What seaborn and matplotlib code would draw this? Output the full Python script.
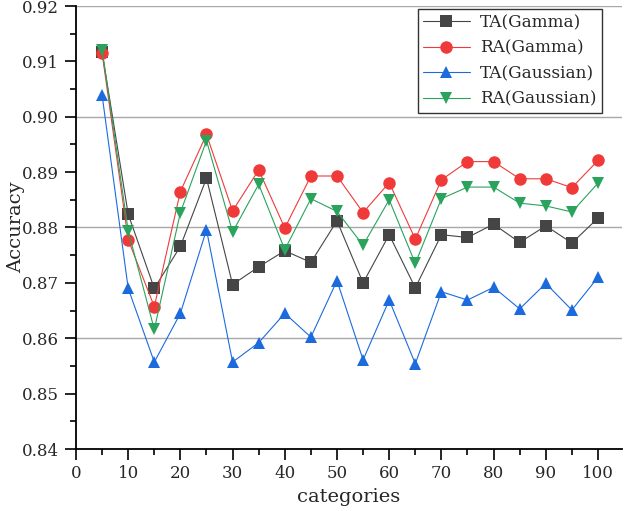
import numpy as np
import pandas as pd
import matplotlib
matplotlib.use("Agg")
import matplotlib.pyplot as plt
import seaborn as sns
from matplotlib.ticker import MultipleLocator, FormatStrFormatter

categories = [5, 10, 15, 20, 25, 30, 35, 40, 45, 50, 55, 60, 65, 70, 75, 80, 85, 90, 95, 100]

ta_gamma = [0.9117, 0.8824, 0.8690, 0.8766, 0.8889, 0.8697, 0.8729, 0.8758, 0.8737, 0.8812,
            0.8700, 0.8787, 0.8691, 0.8787, 0.8782, 0.8806, 0.8773, 0.8803, 0.8772, 0.8817]
ra_gamma = [0.9115, 0.8778, 0.8657, 0.8865, 0.8968, 0.8830, 0.8904, 0.8799, 0.8893, 0.8893,
            0.8827, 0.8881, 0.8779, 0.8886, 0.8919, 0.8919, 0.8888, 0.8888, 0.8872, 0.8921]
ta_gauss = [0.9039, 0.8690, 0.8557, 0.8645, 0.8796, 0.8557, 0.8592, 0.8645, 0.8602, 0.8704,
            0.8561, 0.8669, 0.8554, 0.8684, 0.8669, 0.8692, 0.8653, 0.8699, 0.8651, 0.8710]
ra_gauss = [0.9121, 0.8794, 0.8616, 0.8827, 0.8957, 0.8792, 0.8878, 0.8760, 0.8852, 0.8829,
            0.8768, 0.8850, 0.8735, 0.8852, 0.8873, 0.8873, 0.8844, 0.8839, 0.8828, 0.8880]

series_names = ["TA(Gamma)", "RA(Gamma)", "TA(Gaussian)", "RA(Gaussian)"]
series_values = [ta_gamma, ra_gamma, ta_gauss, ra_gauss]
colors = ["#454545", "#F03A3A", "#1C6BDE", "#2AA35C"]
marker_list = ["s", "o", "^", "v"]
grid_values = [0.86, 0.88, 0.90, 0.92]

df = pd.concat(
    [pd.DataFrame({"categories": categories, "Accuracy": vals, "series": name})
     for name, vals in zip(series_names, series_values)],
    ignore_index=True,
)

sns.set_style("ticks")
plt.rcParams["font.family"] = ["DejaVu Serif"]

fig = plt.figure(figsize=(6.24, 5.11), dpi=100)
ax = fig.add_axes([76 / 624, 1 - 449 / 511, (622 - 76) / 624, (449 - 6) / 511])

for yv in grid_values:
    ax.axhline(yv, color="#a8a8a8", lw=1.0, zorder=0)

sns.lineplot(
    data=df, x="categories", y="Accuracy", hue="series", style="series",
    palette=dict(zip(series_names, colors)),
    markers=dict(zip(series_names, marker_list)),
    dashes=False, markersize=9, markeredgewidth=0, linewidth=0.8, ax=ax,
)

ax.set_xlim(0, 104.6)
ax.set_ylim(0.84, 0.92)
ax.xaxis.set_major_locator(MultipleLocator(10))
ax.xaxis.set_minor_locator(MultipleLocator(5))
ax.yaxis.set_major_locator(MultipleLocator(0.01))
ax.yaxis.set_minor_locator(MultipleLocator(0.005))
ax.yaxis.set_major_formatter(FormatStrFormatter("%.2f"))
ax.tick_params(which="major", length=8, width=1.2, labelsize=12, color="black")
ax.tick_params(which="minor", length=4.5, width=1.2, color="black")
ax.tick_params(axis="y", pad=4)

for side in ["top", "right"]:
    ax.spines[side].set_visible(False)
for side in ["left", "bottom"]:
    ax.spines[side].set_linewidth(1.3)
    ax.spines[side].set_color("black")

ax.set_xlabel("categories", fontsize=14)
ax.set_ylabel("Accuracy", fontsize=14)
ax.xaxis.set_label_coords(0.5, -(488 - 449) / 443)
ax.yaxis.set_label_coords(-(76 - 25) / 546, 0.5)

leg = ax.legend(loc="upper right", bbox_to_anchor=(0.963, 1 - 3 / 443), borderaxespad=0,
                fontsize=12.2, frameon=True, fancybox=False, handlelength=2.8,
                borderpad=0.3, labelspacing=0.5, handletextpad=0.6)
leg.get_frame().set_edgecolor("black")
leg.get_frame().set_linewidth(1.0)

fig.savefig("out.png", dpi=100)
